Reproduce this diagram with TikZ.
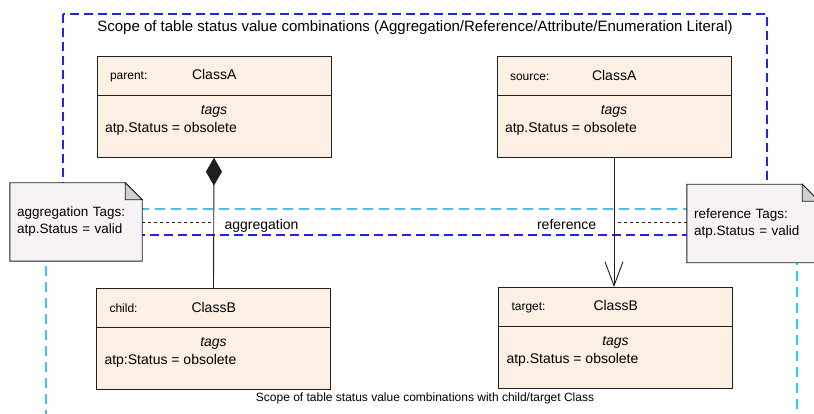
\documentclass[tikz,border=0pt]{standalone}
\usepackage{fontspec}
\setmainfont{Liberation Sans}
\usetikzlibrary{shapes.multipart,arrows.meta,backgrounds}

\definecolor{classfill}{RGB}{251,240,227}
\definecolor{notefill}{RGB}{246,242,246}
\definecolor{foldgray}{RGB}{208,208,210}
\definecolor{scopeblue}{RGB}{35,35,230}
\definecolor{scopecyan}{RGB}{50,200,240}
\definecolor{umlline}{RGB}{30,30,30}

\newcommand{\classhead}[2]{\parbox[c][38pt][c]{234pt}{\hspace*{13pt}\makebox[82pt][l]{\fontsize{12}{14}\selectfont #1}#2}}
\newcommand{\classtags}[1]{\parbox[t][61pt][t]{234pt}{\vspace*{10pt}\centering\itshape tags\par\raggedright\upshape\hspace*{8pt}#1}}

\tikzset{
  classbox/.style={rectangle split, rectangle split parts=2, draw=umlline,
    line width=0.9pt, fill=classfill, inner sep=0pt, anchor=north,
    font=\fontsize{14}{18}\selectfont},
  notebox/.style={minimum width=132pt, minimum height=78pt, text width=118pt,
    inner xsep=7pt, inner ysep=0pt, align=left, font=\fontsize{13.5}{17}\selectfont},
  notepaper/.style={draw=umlline, line width=0.9pt, fill=notefill},
  bluescope/.style={draw=scopeblue, line width=1.3pt, dash pattern=on 9pt off 5pt},
  cyanscope/.style={draw=scopecyan, line width=1.3pt, dash pattern=on 10pt off 6pt},
  notelink/.style={draw=umlline, line width=0.8pt, dash pattern=on 3pt off 3pt},
  umledge/.style={draw=umlline, line width=0.9pt}
}

\begin{document}
\begin{tikzpicture}[x=1pt,y=-1pt,font=\fontsize{14}{17}\selectfont]
\useasboundingbox (0,0) rectangle (814,414);

\node[font=\fontsize{15}{18}\selectfont] (scopetitle) at (415,28)
  {Scope of table status value combinations (Aggregation/Reference/Attribute/Enumeration Literal)};
\node[font=\fontsize{12}{14}\selectfont] (scopefoot) at (425,398)
  {Scope of table status value combinations with child/target Class};

\node[classbox] (parent) at (214,56)
  {\classhead{parent:}{ClassA}\nodepart{two}\classtags{atp.Status = obsolete}};
\node[classbox] (source) at (614,56)
  {\classhead{source:}{ClassA}\nodepart{two}\classtags{atp.Status = obsolete}};
\node[classbox] (child) at (213.5,288)
  {\classhead{child:}{ClassB}\nodepart{two}\classtags{atp:Status = obsolete}};
\node[classbox] (target) at (615.5,287)
  {\classhead{target:}{ClassB}\nodepart{two}\classtags{atp.Status = obsolete}};

\node[notebox] (aggnote) at (76,222) {aggregation Tags:\\atp.Status = valid};
\node[notebox] (refnote) at (753,223.5) {reference Tags:\\atp.Status = valid};

\draw[umledge, {Diamond[length=28pt,width=16pt]}-] (parent.south) -- (child.north)
  coordinate[pos=0.5] (aggmid) node[pos=0.52, right=7pt] {aggregation};
\draw[umledge, -{Straight Barb[length=24pt,width=18pt,line width=0.9pt]}]
  (source.south) -- (source.south |- target.north)
  coordinate[pos=0.5] (refmid) node[pos=0.52, left=14pt] {reference};

\draw[notelink] (aggmid -| aggnote.east) -- (aggmid);
\draw[notelink] (refmid -| refnote.west) -- (refmid);

\begin{scope}[on background layer]
  \draw[cyanscope] (46,420) -- (46,209) -- (797,209) -- (797,420);
  \draw[bluescope] (63,14) rectangle (767,235);
  \foreach \n in {aggnote,refnote}{
    \draw[notepaper] (\n.north west) -- ([xshift=-17pt]\n.north east)
      -- ([yshift=-17pt]\n.north east) -- (\n.south east) -- (\n.south west) -- cycle;
    \draw[notepaper, fill=foldgray] ([xshift=-17pt]\n.north east)
      -- ([yshift=-17pt]\n.north east) -- ([xshift=-17pt,yshift=-17pt]\n.north east) -- cycle;
  }
\end{scope}
\end{tikzpicture}
\end{document}
